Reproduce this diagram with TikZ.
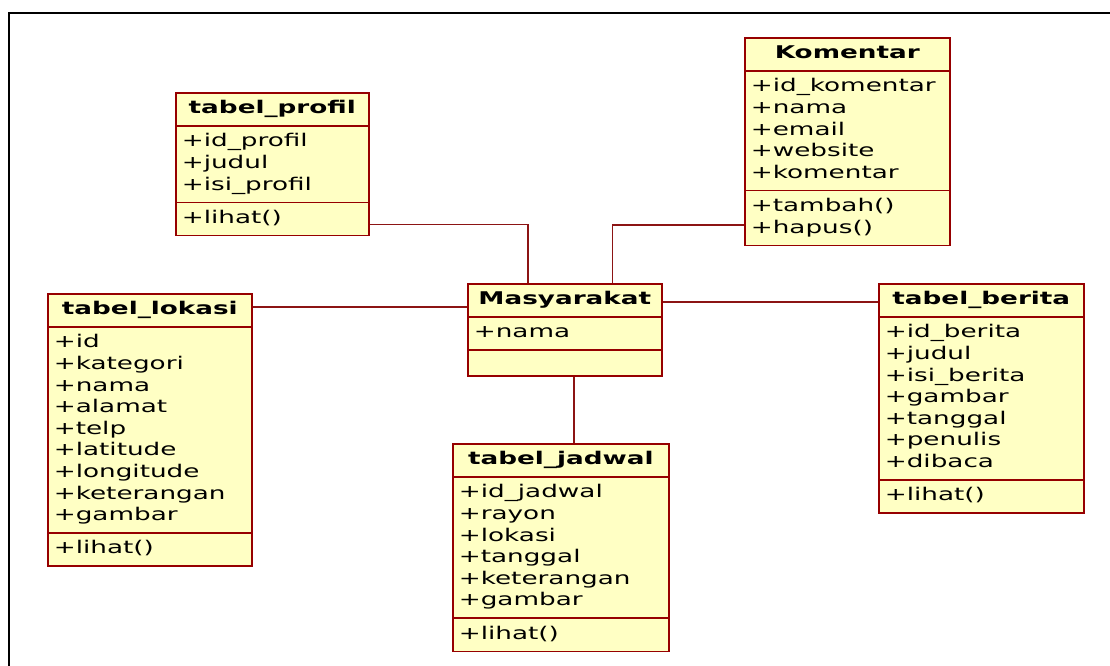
\documentclass[tikz,border=0pt]{standalone}
\usepackage{fontspec}
\setmainfont{DejaVu Sans}[FakeStretch=1.5]
\usetikzlibrary{shapes.multipart}
\definecolor{umlred}{RGB}{150,0,0}
\definecolor{umlfill}{RGB}{255,255,196}
\definecolor{linkred}{RGB}{140,20,20}
\newcommand{\fld}[1]{\strut#1}
\begin{document}
\begin{tikzpicture}[x=1pt, y=-1pt,
		class/.style={draw=umlred, fill=umlfill, line width=1.6pt, rectangle split, rectangle split parts=3,
		  rectangle split part align={center,left,left}, align=left, inner xsep=6pt, inner ysep=5pt,
		  anchor=north west, font=\fontsize{17.5}{21.6}\selectfont},
		link/.style={draw=linkred, line width=1.5pt}]
			\useasboundingbox (0,0) rectangle (1110,666);
			\draw[line width=1.5pt, line cap=rect] (9,666) -- (9,13) -- (1110,13);
			% classes
			\node[class, minimum width=193pt] (profil) at (175,92) {\fld{\textbf{tabel\_profil}}
			  \nodepart{second}\fld{+id\_profil}\\\fld{+judul}\\\fld{+isi\_profil}
			  \nodepart{third}\fld{+lihat()}};
			\node[class, minimum width=205pt] (komentar) at (744,37) {\fld{\textbf{Komentar}}
			  \nodepart{second}\fld{+id\_komentar}\\\fld{+nama}\\\fld{+email}\\\fld{+website}\\\fld{+komentar}
			  \nodepart{third}\fld{+tambah()}\\\fld{+hapus()}};
			\node[class, minimum width=204pt] (lokasi) at (47,293) {\fld{\textbf{tabel\_lokasi}}
			  \nodepart{second}\fld{+id}\\\fld{+kategori}\\\fld{+nama}\\\fld{+alamat}\\\fld{+telp}\\\fld{+latitude}\\\fld{+longitude}\\\fld{+keterangan}\\\fld{+gambar}
			  \nodepart{third}\fld{+lihat()}};
			\node[class, minimum width=194pt] (masyarakat) at (467,283) {\fld{\textbf{Masyarakat}}
			  \nodepart{second}\fld{+nama}
			  \nodepart{third}\rule{0pt}{14pt}};
			\node[class, minimum width=216pt] (jadwal) at (452,443) {\fld{\textbf{tabel\_jadwal}}
			  \nodepart{second}\fld{+id\_jadwal}\\\fld{+rayon}\\\fld{+lokasi}\\\fld{+tanggal}\\\fld{+keterangan}\\\fld{+gambar}
			  \nodepart{third}\fld{+lihat()}};
			\node[class, minimum width=205pt] (berita) at (878,283) {\fld{\textbf{tabel\_berita}}
			  \nodepart{second}\fld{+id\_berita}\\\fld{+judul}\\\fld{+isi\_berita}\\\fld{+gambar}\\\fld{+tanggal}\\\fld{+penulis}\\\fld{+dibaca}
			  \nodepart{third}\fld{+lihat()}};
			% associations
			\coordinate (ml) at ([yshift=-24pt]masyarakat.north west);
			\coordinate (mr) at ([yshift=-19pt]masyarakat.north east);
			\coordinate (mb) at ([xshift=9pt]masyarakat.south);
			\draw[link] ([yshift=12pt]profil.south east) -| ([xshift=61pt]masyarakat.north west);
			\draw[link] ([yshift=21pt]komentar.south west) -| ([xshift=-50pt]masyarakat.north east);
			\draw[link] (ml) -- (lokasi.east |- ml);
			\draw[link] (mr) -- (berita.west |- mr);
			\draw[link] (mb) -- (jadwal.north -| mb);
\end{tikzpicture}
\end{document}
